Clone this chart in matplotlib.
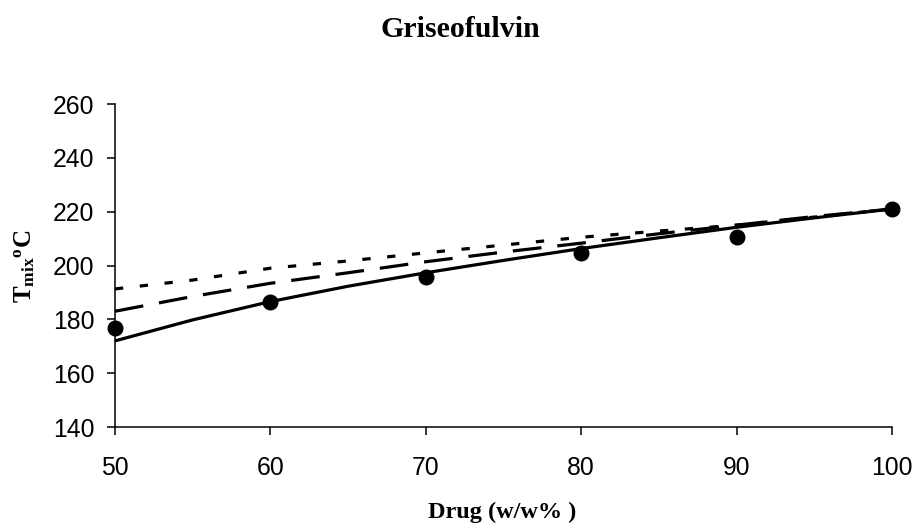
import numpy as np
import matplotlib
matplotlib.use("Agg")
import matplotlib.pyplot as plt

plt.rcParams["mathtext.fontset"] = "custom"
plt.rcParams["mathtext.rm"] = "Liberation Serif"
plt.rcParams["mathtext.bf"] = "Liberation Serif:bold"

## data
drug_pts = [50, 60, 70, 80, 90, 100]
tmix_pts = [176.6, 186.3, 195.8, 204.7, 210.6, 221.0]

drug_fit = [50, 55, 60, 65, 70, 75, 80, 85, 90, 95, 100]
solid_fit = [172.0, 179.8, 186.6, 192.3, 197.3, 201.9, 206.3, 210.3, 214.2, 217.7, 221.0]
dashed_fit = [183.0, 188.5, 193.4, 197.3, 201.4, 205.0, 208.3, 211.8, 215.0, 218.2, 221.0]
dotted_fit = [191.3, 194.6, 199.0, 201.7, 204.7, 207.6, 210.5, 212.8, 215.0, 218.0, 221.0]

xticks = [50, 60, 70, 80, 90, 100]
yticks = [140, 160, 180, 200, 220, 240, 260]

## plot
fig = plt.figure(figsize=(9.2, 5.29), dpi=100)
ax = fig.add_axes([0.125, 0.1928, 0.8446, 0.6106])

ax.plot(drug_fit, dotted_fit, color="black", lw=2.3, dashes=(2.6, 5.2),
        dash_capstyle="butt")
ax.plot(drug_fit, dashed_fit, color="black", lw=2.3, dashes=(9.0, 5.0),
        dash_capstyle="butt")
ax.plot(drug_fit, solid_fit, color="black", lw=2.3)
ax.plot(drug_pts, tmix_pts, "o", color="black", ms=10.5, zorder=5, clip_on=False)

ax.set_xlim(50, 100)
ax.set_ylim(140, 260)
ax.set_xticks(xticks)
ax.set_yticks(yticks)

for s in ["top", "right"]:
    ax.spines[s].set_visible(False)
for s in ["left", "bottom"]:
    ax.spines[s].set_linewidth(1.1)

ax.tick_params(axis="both", direction="out", length=6, width=1.1,
               labelsize=17.8, color="black")
ax.tick_params(axis="x", pad=15)
ax.tick_params(axis="y", pad=9)
for lab in ax.get_xticklabels() + ax.get_yticklabels():
    lab.set_family("Liberation Sans")

fig.text(0.5, 0.945, "Griseofulvin", ha="center", va="center",
         family="Liberation Serif", weight="bold", fontsize=21.5)
fig.text(0.546, 0.032, "Drug (w/w% )", ha="center", va="center",
         family="Liberation Serif", weight="bold", fontsize=17.5)
fig.text(0.027, 0.497, r"$\mathbf{T_{mix}{}^{o}C}$", ha="center", va="center",
         rotation=90, fontsize=18)

fig.savefig("out.png", dpi=100)
